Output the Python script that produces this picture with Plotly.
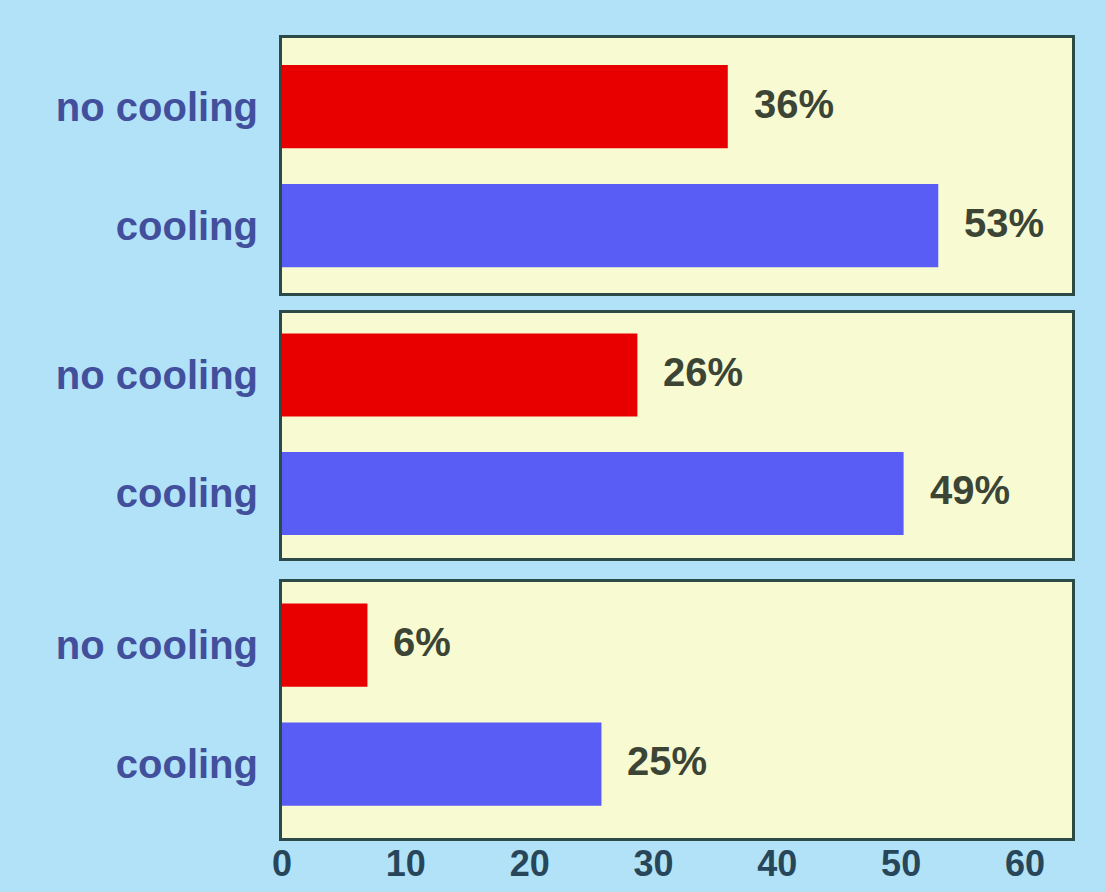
import plotly.graph_objects as go
from plotly.subplots import make_subplots

categories = ["cooling", "no cooling"]
# bar lengths as drawn in the picture (cooling, no cooling) per panel
bar_lengths = [
    [53.0, 36.0],
    [50.2, 28.7],
    [25.8, 6.9],
]
value_labels = [
    ["53%", "36%"],
    ["49%", "26%"],
    ["25%", "6%"],
]
tick_vals = [0, 10, 20, 30, 40, 50, 60]
tick_text = ["0", "10", "20", "30", "40", "50", "60"]

COL_COOL = "#5a5cf6"
COL_NOCOOL = "#e80000"
BG = "#b2e2f7"
PANEL = "#f8fbd2"
BORDER = "#2c4a48"
YLAB = "#424f9c"
VALCOL = "#3c4535"
TICKCOL = "#27465a"
FONT = "Liberation Sans"

W, H = 1105, 892
L, R, T, B = 282, 33, 38, 54

fig = make_subplots(rows=3, cols=1, shared_xaxes=False, vertical_spacing=0.0)

domains = [(0.68125, 1.0), (0.35, 0.65625), (0.0, 0.32)]
yranges = [(-0.567, 1.576), (-0.545, 1.523), (-0.62, 1.53)]

for i in range(3):
    r = i + 1
    sfx = "" if r == 1 else str(r)
    fig.add_trace(
        go.Bar(
            y=categories,
            x=bar_lengths[i],
            orientation="h",
            marker=dict(color=[COL_COOL, COL_NOCOOL], line=dict(width=0)),
            width=0.70,
            showlegend=False,
            hoverinfo="y+text",
            hovertext=value_labels[i],
        ),
        row=r, col=1,
    )
    for cat, v, lab in zip(categories, bar_lengths[i], value_labels[i]):
        fig.add_annotation(
            x=v, y=cat, text=lab, showarrow=False,
            xanchor="left", yanchor="middle", xshift=24, yshift=3,
            font=dict(family=FONT, size=40, color=VALCOL, weight="bold"),
            xref=f"x{sfx}", yref=f"y{sfx}",
        )
    fig.update_yaxes(
        row=r, col=1,
        domain=list(domains[i]),
        type="category",
        categoryorder="array", categoryarray=categories,
        range=list(yranges[i]),
        showline=True, mirror=True, linewidth=3, linecolor=BORDER,
        showgrid=False, zeroline=False, ticks="",
        ticklabelstandoff=13,
        automargin=False,
        tickfont=dict(family=FONT, size=40, color=YLAB, weight="bold"),
        fixedrange=True,
    )
    fig.update_xaxes(
        row=r, col=1,
        range=[0, 63.8],
        showline=True, mirror=True, linewidth=3, linecolor=BORDER,
        showgrid=False, zeroline=False, ticks="",
        tickvals=tick_vals, ticktext=tick_text,
        showticklabels=(r == 3),
        ticklabelstandoff=-8,
        automargin=False,
        tickfont=dict(family=FONT, size=36, color=TICKCOL, weight="bold"),
        fixedrange=True,
    )

fig.update_layout(
    width=W, height=H,
    margin=dict(l=L, r=R, t=T, b=B, autoexpand=False),
    paper_bgcolor=BG,
    plot_bgcolor=PANEL,
    font=dict(family=FONT),
)

fig.write_html("out.html")
